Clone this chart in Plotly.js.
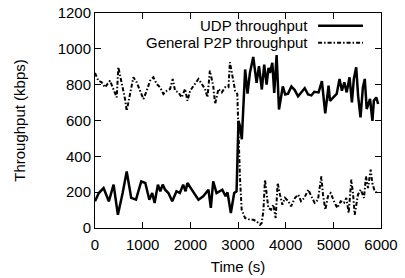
<!DOCTYPE html>
<html>
<head>
<meta charset="utf-8">
<script src="https://cdn.plot.ly/plotly-3.0.1.min.js"></script>
<style>html,body{margin:0;padding:0;background:#fff;}#chart{width:405px;height:278px;}</style>
</head>
<body>
<div id="chart"></div>
<script>
const udpTime = [0,80,180,290,390,480,580,665,760,860,970,1055,1140,1200,1250,1320,1370,1420,1470,1540,1620,1710,1780,1850,1900,1940,2030,2170,2270,2380,2430,2480,2550,2670,2740,2780,2850,2920,2970,3010,3050,3080,3150,3200,3250,3320,3390,3440,3500,3550,3600,3640,3670,3720,3760,3810,3860,3940,3990,4050,4120,4190,4260,4330,4400,4470,4540,4600,4690,4760,4830,4900,4930,5000,5070,5130,5180,5230,5280,5340,5390,5430,5480,5520,5570,5620,5660,5700,5770,5820,5850,5900,5940];
const udpThroughput = [150,195,223,149,242,74,195,315,168,158,260,251,158,195,140,242,205,242,214,195,149,205,195,242,205,251,214,158,177,214,112,260,195,214,177,199,84,195,205,598,560,495,885,750,866,955,810,903,773,912,800,894,866,922,754,965,661,790,745,750,790,770,735,760,780,745,740,760,757,820,640,794,710,729,748,832,766,813,757,841,701,832,897,738,617,785,832,664,720,598,710,729,692];

const p2pTime = [0,70,140,210,315,385,455,490,560,630,665,735,805,875,945,1015,1085,1155,1225,1295,1365,1435,1505,1575,1630,1680,1750,1820,1890,1940,1995,2065,2170,2240,2310,2360,2410,2480,2520,2590,2660,2730,2800,2830,2890,2940,2985,3010,3040,3077,3147,3252,3322,3392,3461,3497,3532,3566,3602,3636,3692,3741,3790,3832,3881,3930,3986,4056,4112,4196,4265,4322,4391,4475,4538,4608,4678,4748,4783,4832,4888,4944,5014,5083,5154,5224,5272,5322,5377,5412,5448,5517,5574,5643,5685,5727,5783,5818,5867,5922];
const p2pThroughput = [865,822,813,785,822,776,729,897,813,720,654,757,841,813,766,720,766,822,841,804,785,748,766,776,832,766,757,729,776,710,766,794,832,804,776,729,878,794,692,776,757,785,785,925,841,766,748,520,288,102,56,46,46,37,18,28,93,270,177,112,102,130,56,251,186,130,168,149,121,168,186,149,168,214,177,140,158,288,186,102,177,195,149,112,149,140,168,84,270,195,74,186,214,168,288,223,326,251,205,195];

const seriesNames = ['UDP throughput', 'General P2P throughput'];
const xTicks = [0,1000,2000,3000,4000,5000,6000];
const yTicks = [0,200,400,600,800,1000,1200];

const FONT = 'Liberation Sans, Arial, Helvetica, sans-serif';

const traces = [
  {x: udpTime, y: udpThroughput, name: seriesNames[0], type: 'scatter', mode: 'lines',
   line: {color: '#000', width: 2.5}, showlegend: false},
  {x: p2pTime, y: p2pThroughput, name: seriesNames[1], type: 'scatter', mode: 'lines',
   line: {color: '#000', width: 2, dash: '4px,2px,1.5px,2px'}, showlegend: false}
];

const axisCommon = {
  showline: true, linecolor: '#000', linewidth: 1, mirror: 'allticks',
  ticks: 'inside', ticklen: 6, tickcolor: '#000', tickwidth: 1,
  showgrid: false, zeroline: false,
  tickfont: {family: FONT, size: 15, color: '#000'}
};

const layout = {
  width: 405, height: 278,
  margin: {l: 95, r: 24, t: 13, b: 50},
  paper_bgcolor: '#fff', plot_bgcolor: '#fff',
  font: {family: FONT, size: 15, color: '#000'},
  xaxis: Object.assign({}, axisCommon, {
    range: [0, 6000], tickvals: xTicks, ticktext: xTicks.map(String),
    ticklabelstandoff: 3,
    title: {text: 'Time (s)', font: {family: FONT, size: 15}, standoff: 9}
  }),
  yaxis: Object.assign({}, axisCommon, {
    range: [0, 1200], tickvals: yTicks, ticktext: yTicks.map(String),
    title: {text: 'Throughput (kbps)', font: {family: FONT, size: 15}, standoff: 28}
  }),
  annotations: [
    {xref: 'paper', yref: 'paper', x: 0.752, y: 0.941, xanchor: 'right', yanchor: 'middle',
     text: seriesNames[0], showarrow: false, font: {family: FONT, size: 15, color: '#000'}},
    {xref: 'paper', yref: 'paper', x: 0.752, y: 0.862, xanchor: 'right', yanchor: 'middle',
     text: seriesNames[1], showarrow: false, font: {family: FONT, size: 15, color: '#000'}}
  ],
  shapes: [
    {type: 'line', xref: 'paper', yref: 'paper', x0: 0.78, x1: 0.937, y0: 0.941, y1: 0.941,
     line: {color: '#000', width: 2.5}},
    {type: 'line', xref: 'paper', yref: 'paper', x0: 0.78, x1: 0.937, y0: 0.862, y1: 0.862,
     line: {color: '#000', width: 2, dash: '4px,2px,1.5px,2px'}}
  ],
  showlegend: false
};

Plotly.newPlot('chart', traces, layout, {staticPlot: true, displayModeBar: false});
</script>
</body>
</html>
